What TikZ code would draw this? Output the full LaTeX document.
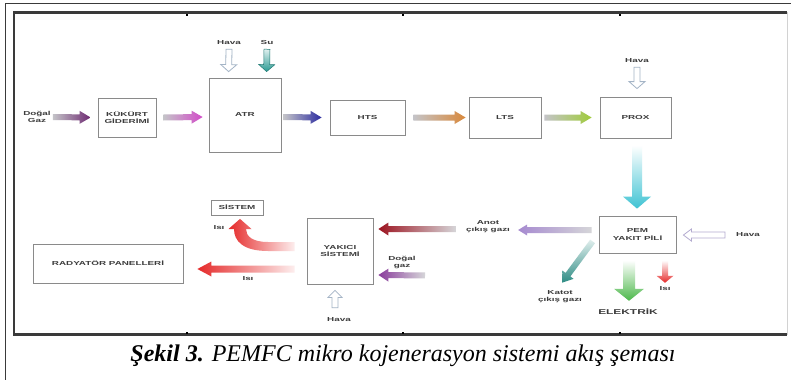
\documentclass[tikz,border=0pt]{standalone}
\usepackage{fontspec}
\setmainfont{Liberation Serif}
\newfontfamily\diagfont[FakeStretch=1.7]{Liberation Sans}
\usetikzlibrary{calc}

\definecolor{framegray}{HTML}{3A3A3A}
\definecolor{boxgray}{HTML}{8A8A8A}
\definecolor{txtgray}{HTML}{3C3C3C}
\definecolor{tailgray}{HTML}{C4C4C8}
\definecolor{cPlum}{HTML}{6E2A72}
\definecolor{cMagenta}{HTML}{D24BC8}
\definecolor{cNavy}{HTML}{2C2CA0}
\definecolor{cOrange}{HTML}{D9883A}
\definecolor{cLime}{HTML}{9FCB3A}
\definecolor{cCyan}{HTML}{3FC3D3}
\definecolor{cTeal}{HTML}{2A9A92}
\definecolor{cLavender}{HTML}{A68AD0}
\definecolor{cDarkRed}{HTML}{9C1420}
\definecolor{cPurple}{HTML}{8A3C9C}
\definecolor{cKatot}{HTML}{2E8C84}
\definecolor{cGreen}{HTML}{4CB84A}
\definecolor{cRed}{HTML}{E52A2A}
\definecolor{hollowBlue}{HTML}{A4B4C6}
\definecolor{hollowLav}{HTML}{B4ACD0}

\newcommand\diaglbl{\diagfont\bfseries\fontsize{5.8}{7}\selectfont}
\newcommand\biglbl{\diagfont\bfseries\fontsize{7}{8}\selectfont}

% block arrow: style, start, end, shaft half width, head half width, head length
\newcommand\blockarr[6]{%
  \coordinate (ba-s) at #2;
  \coordinate (ba-e) at #3;
  \coordinate (ba-h) at ($(ba-e)!#6!(ba-s)$);
  \path[#1] ($(ba-s)!#4!90:(ba-e)$) -- ($(ba-h)!#4!90:(ba-e)$)
    -- ($(ba-h)!#5!90:(ba-e)$) -- (ba-e) -- ($(ba-h)!#5!-90:(ba-e)$)
    -- ($(ba-h)!#4!-90:(ba-e)$) -- ($(ba-s)!#4!-90:(ba-e)$) -- cycle;
}

\tikzset{
  box/.style={draw=boxgray, line width=0.8pt, inner sep=0pt, align=center,
    text=txtgray, font=\diaglbl},
  lbl/.style={text=txtgray, font=\diaglbl, align=center, inner sep=0pt},
  hollow/.style={fill=white, draw=hollowBlue, line width=0.8pt},
  hollowlav/.style={fill=white, draw=hollowLav, line width=0.8pt},
  flowR/.style={left color=tailgray, right color=#1},
  flowL/.style={right color=tailgray!70, left color=#1},
  flowD/.style={top color=white, bottom color=#1},
}

\begin{document}
\begin{tikzpicture}[x=1pt,y=-1pt]
\useasboundingbox (0,0) rectangle (791,380);
\fill[white] (0,0) rectangle (791,380);

% page frame and figure frame
\draw[framegray, line width=0.9pt] (791,3.5) -- (5,3.5) -- (5,380);
\draw[gray!35, line width=0.8pt] (787,12) -- (787,335);
\draw[framegray, line width=2.2pt] (787,12.5) -- (14,12.5) -- (14,334.5) -- (787,334.5);
\foreach \tx in {187,403,620} {
  \fill[black] (\tx-0.8,13.5) rectangle (\tx+0.8,15.5);
  \fill[black] (\tx-0.8,331.5) rectangle (\tx+0.8,333.5);
}

% process units
\node[box, minimum width=58pt, minimum height=39pt] (kukurt) at (127,117.5) {KÜKÜRT\\GİDERİMİ};
\node[box, minimum width=72pt, minimum height=74pt] (atr) at (245,115) {ATR};
\node[box, minimum width=75pt, minimum height=35pt] (hts) at (367.5,117.5) {HTS};
\node[box, minimum width=72pt, minimum height=41pt] (lts) at (505,117.5) {LTS};
\node[box, minimum width=71pt, minimum height=41pt] (prox) at (635.5,117.5) {PROX};
\node[box, minimum width=77pt, minimum height=37pt] (pem) at (637.5,234.5) {PEM\\YAKIT PİLİ};
\node[box, minimum width=66pt, minimum height=66pt] (yakici) at (340,251) {YAKICI\\SİSTEMİ};
\node[box, minimum width=52pt, minimum height=15pt] (sistem) at (237,207.5) {SİSTEM};
\node[box, minimum width=150pt, minimum height=39pt] (radyator) at (108,263.5) {RADYATÖR PANELLERİ};

% stream labels
\node[lbl] (gazin) at (37,117) {Doğal\\Gaz};
\node[lbl] (havaatr) at (229,43) {Hava};
\node[lbl] (su) at (267,43) {Su};
\node[lbl] (havaprox) at (637,61) {Hava};
\node[lbl] (anot) at (488,227) {Anot\\çıkış gazı};
\node[lbl] (havapem) at (748,235) {Hava};
\node[lbl] (gazyak) at (402,262) {Doğal\\gaz};
\node[lbl] (katot) at (560,297) {Katot\\çıkış gazı};
\node[lbl, font=\biglbl] (elektrik) at (628,311) {ELEKTRİK};
\node[lbl] (isipem) at (665,289) {Isı};
\node[lbl] (isisis) at (219,228) {Isı};
\node[lbl] (isirad) at (248,279) {Isı};
\node[lbl] (havayak) at (339,320) {Hava};

% main fuel line
\blockarr{flowR=cPlum}{($(gazin.east)+(2,0)$)}{($(kukurt.west)+(-7,0)$)}{3pt}{6.5pt}{11pt}
\blockarr{flowR=cMagenta}{($(kukurt.east)+(7,0)$)}{($(atr.west)+(-6,2)$)}{3pt}{6.5pt}{11pt}
\blockarr{flowR=cNavy}{($(atr.east)+(2,2)$)}{($(hts.west)+(-8,0)$)}{3pt}{6.5pt}{11pt}
\blockarr{flowR=cOrange}{($(hts.east)+(8,0)$)}{($(lts.west)+(-3,0)$)}{3pt}{6.5pt}{11pt}
\blockarr{flowR=cLime}{($(lts.east)+(3,0)$)}{($(prox.west)+(-8,0)$)}{3pt}{6.5pt}{11pt}

% air and water feeds
\blockarr{hollow}{($(havaatr.south)+(0,4)$)}{($(atr.north west)+(20,-6)$)}{3pt}{8pt}{7pt}
\blockarr{top color=cTeal!15, bottom color=cTeal, draw=cTeal!80!black, line width=0.5pt}{($(su.south)+(0,4)$)}{($(atr.north west)+(58,-6)$)}{3pt}{8pt}{7pt}
\blockarr{hollow}{($(havaprox.south)+(0,4)$)}{($(prox.north)+(1.5,-8)$)}{3pt}{8pt}{7pt}
\blockarr{hollowlav}{($(havapem.west)+(-11,0)$)}{($(pem.east)+(7,0.5)$)}{3pt}{6pt}{8pt}
\blockarr{hollow}{($(havayak.north)+(-4,-10)$)}{($(yakici.south)+(-5,6)$)}{3pt}{7pt}{7pt}

% reformate to the fuel cell
\blockarr{flowD=cCyan}{($(prox.south)+(1.5,7)$)}{($(pem.north)+(-0.5,-7)$)}{5pt}{14pt}{12pt}

% fuel cell outputs
\blockarr{flowL=cLavender}{($(pem.west)+(-7,-4.5)$)}{($(anot.east)+(8,3)$)}{3pt}{5.5pt}{9pt}
\blockarr{flowL=cDarkRed}{($(anot.west)+(-10,2)$)}{($(yakici.east)+(5,-22)$)}{3pt}{6.5pt}{10pt}
\blockarr{flowL=cPurple}{($(gazyak.south)+(23,7)$)}{($(yakici.east)+(5,24)$)}{3pt}{6.5pt}{10pt}
\blockarr{top color=cKatot!15, bottom color=cKatot}{($(pem.south west)+(-6,-12)$)}{($(katot.north)+(2,-8)$)}{3pt}{7pt}{10pt}
\blockarr{flowD=cGreen}{($(pem.south)+(-8.5,7)$)}{($(elektrik.north)+(1,-7)$)}{6pt}{15pt}{12pt}
\blockarr{flowD=cRed}{($(pem.south)+(27.5,7)$)}{($(isipem.north)+(0,-4)$)}{3pt}{8.5pt}{7pt}

% heat from the burner
\blockarr{right color=cRed!8, left color=cRed}{($(yakici.west)+(-12,18)$)}{($(radyator.east)+(14,5.5)$)}{3.5pt}{7.5pt}{14pt}
\path[right color=cRed!8, left color=cRed]
  ($(yakici.west)+(-12,-9)$) -- (268,242) .. controls (252,242) and (246,236) .. (246,229)
  -- (251.5,229) -- ($(sistem.south)+(3,3.5)$) -- (228.5,229) -- (234,229)
  .. controls (234,241) and (243,251) .. (268,251) -- ($(yakici.west)+(-12,0)$) -- cycle;

% caption
\node[anchor=base, inner sep=0pt, font=\fontsize{24}{28}\selectfont] (caption) at (403,361)
  {\textbf{\textit{Şekil 3.}} \textit{PEMFC mikro kojenerasyon sistemi akış şeması}};
\end{tikzpicture}
\end{document}
